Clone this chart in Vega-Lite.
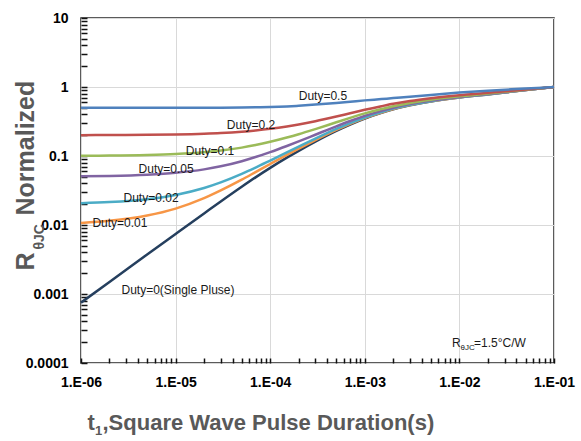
{
  "$schema": "https://vega.github.io/schema/vega-lite/v6.json",
  "width": 473,
  "height": 345,
  "autosize": {"type": "none"},
  "padding": {"left": 81, "top": 18, "right": 27, "bottom": 78},
  "background": "white",
  "config": {
    "font": "Liberation Sans",
    "view": {"stroke": "#262626", "strokeWidth": 1.5},
    "axis": {
      "labelFont": "Liberation Sans",
      "labelFontSize": 14,
      "labelFontWeight": "bold",
      "labelColor": "#000000",
      "titleFont": "Liberation Sans",
      "titleColor": "#595959",
      "titleFontWeight": "bold",
      "gridColor": "#d9d9d9",
      "gridWidth": 1,
      "domain": false
    }
  },
  "datasets": {
    "curves": [
      {"duty": "0", "t": 1e-6, "z": 0.00075},
      {"duty": "0", "t": 2e-6, "z": 0.00149},
      {"duty": "0", "t": 5e-6, "z": 0.00374},
      {"duty": "0", "t": 1e-5, "z": 0.00742},
      {"duty": "0", "t": 2e-5, "z": 0.0147},
      {"duty": "0", "t": 3e-5, "z": 0.0219},
      {"duty": "0", "t": 5e-5, "z": 0.0358},
      {"duty": "0", "t": 7e-5, "z": 0.049},
      {"duty": "0", "t": 1e-4, "z": 0.0673},
      {"duty": "0", "t": 1.5e-4, "z": 0.0945},
      {"duty": "0", "t": 2e-4, "z": 0.1187},
      {"duty": "0", "t": 3e-4, "z": 0.1615},
      {"duty": "0", "t": 5e-4, "z": 0.231},
      {"duty": "0", "t": 7e-4, "z": 0.2855},
      {"duty": "0", "t": 1e-3, "z": 0.349},
      {"duty": "0", "t": 1.5e-3, "z": 0.422},
      {"duty": "0", "t": 2e-3, "z": 0.475},
      {"duty": "0", "t": 3e-3, "z": 0.542},
      {"duty": "0", "t": 5e-3, "z": 0.616},
      {"duty": "0", "t": 1e-2, "z": 0.703},
      {"duty": "0", "t": 2e-2, "z": 0.78},
      {"duty": "0", "t": 5e-2, "z": 0.902},
      {"duty": "0", "t": 1e-1, "z": 1.0},

      {"duty": "0.01", "t": 1e-6, "z": 0.0107},
      {"duty": "0.01", "t": 2e-6, "z": 0.0115},
      {"duty": "0.01", "t": 5e-6, "z": 0.0137},
      {"duty": "0.01", "t": 1e-5, "z": 0.0173},
      {"duty": "0.01", "t": 2e-5, "z": 0.0245},
      {"duty": "0.01", "t": 3e-5, "z": 0.0317},
      {"duty": "0.01", "t": 5e-5, "z": 0.0454},
      {"duty": "0.01", "t": 7e-5, "z": 0.0585},
      {"duty": "0.01", "t": 1e-4, "z": 0.0766},
      {"duty": "0.01", "t": 1.5e-4, "z": 0.1036},
      {"duty": "0.01", "t": 2e-4, "z": 0.1275},
      {"duty": "0.01", "t": 3e-4, "z": 0.1699},
      {"duty": "0.01", "t": 5e-4, "z": 0.2387},
      {"duty": "0.01", "t": 7e-4, "z": 0.2927},
      {"duty": "0.01", "t": 1e-3, "z": 0.3555},
      {"duty": "0.01", "t": 1.5e-3, "z": 0.4278},
      {"duty": "0.01", "t": 2e-3, "z": 0.4803},
      {"duty": "0.01", "t": 3e-3, "z": 0.5466},
      {"duty": "0.01", "t": 5e-3, "z": 0.6198},
      {"duty": "0.01", "t": 1e-2, "z": 0.706},
      {"duty": "0.01", "t": 2e-2, "z": 0.7822},
      {"duty": "0.01", "t": 5e-2, "z": 0.903},
      {"duty": "0.01", "t": 1e-1, "z": 1.0},

      {"duty": "0.02", "t": 1e-6, "z": 0.0207},
      {"duty": "0.02", "t": 2e-6, "z": 0.0215},
      {"duty": "0.02", "t": 5e-6, "z": 0.0237},
      {"duty": "0.02", "t": 1e-5, "z": 0.0273},
      {"duty": "0.02", "t": 2e-5, "z": 0.0344},
      {"duty": "0.02", "t": 3e-5, "z": 0.0415},
      {"duty": "0.02", "t": 5e-5, "z": 0.0551},
      {"duty": "0.02", "t": 7e-5, "z": 0.068},
      {"duty": "0.02", "t": 1e-4, "z": 0.086},
      {"duty": "0.02", "t": 1.5e-4, "z": 0.1126},
      {"duty": "0.02", "t": 2e-4, "z": 0.1363},
      {"duty": "0.02", "t": 3e-4, "z": 0.1783},
      {"duty": "0.02", "t": 5e-4, "z": 0.2464},
      {"duty": "0.02", "t": 7e-4, "z": 0.2998},
      {"duty": "0.02", "t": 1e-3, "z": 0.362},
      {"duty": "0.02", "t": 1.5e-3, "z": 0.4336},
      {"duty": "0.02", "t": 2e-3, "z": 0.4855},
      {"duty": "0.02", "t": 3e-3, "z": 0.5512},
      {"duty": "0.02", "t": 5e-3, "z": 0.6237},
      {"duty": "0.02", "t": 1e-2, "z": 0.7089},
      {"duty": "0.02", "t": 2e-2, "z": 0.7844},
      {"duty": "0.02", "t": 5e-2, "z": 0.904},
      {"duty": "0.02", "t": 1e-1, "z": 1.0},

      {"duty": "0.05", "t": 1e-6, "z": 0.0507},
      {"duty": "0.05", "t": 2e-6, "z": 0.0514},
      {"duty": "0.05", "t": 5e-6, "z": 0.0536},
      {"duty": "0.05", "t": 1e-5, "z": 0.0571},
      {"duty": "0.05", "t": 2e-5, "z": 0.064},
      {"duty": "0.05", "t": 3e-5, "z": 0.0708},
      {"duty": "0.05", "t": 5e-5, "z": 0.084},
      {"duty": "0.05", "t": 7e-5, "z": 0.0966},
      {"duty": "0.05", "t": 1e-4, "z": 0.1139},
      {"duty": "0.05", "t": 1.5e-4, "z": 0.1398},
      {"duty": "0.05", "t": 2e-4, "z": 0.1628},
      {"duty": "0.05", "t": 3e-4, "z": 0.2034},
      {"duty": "0.05", "t": 5e-4, "z": 0.2695},
      {"duty": "0.05", "t": 7e-4, "z": 0.3212},
      {"duty": "0.05", "t": 1e-3, "z": 0.3816},
      {"duty": "0.05", "t": 1.5e-3, "z": 0.4509},
      {"duty": "0.05", "t": 2e-3, "z": 0.5013},
      {"duty": "0.05", "t": 3e-3, "z": 0.5649},
      {"duty": "0.05", "t": 5e-3, "z": 0.6352},
      {"duty": "0.05", "t": 1e-2, "z": 0.7179},
      {"duty": "0.05", "t": 2e-2, "z": 0.791},
      {"duty": "0.05", "t": 5e-2, "z": 0.9069},
      {"duty": "0.05", "t": 1e-1, "z": 1.0},

      {"duty": "0.1", "t": 1e-6, "z": 0.1007},
      {"duty": "0.1", "t": 2e-6, "z": 0.1013},
      {"duty": "0.1", "t": 5e-6, "z": 0.1034},
      {"duty": "0.1", "t": 1e-5, "z": 0.1067},
      {"duty": "0.1", "t": 2e-5, "z": 0.1132},
      {"duty": "0.1", "t": 3e-5, "z": 0.1197},
      {"duty": "0.1", "t": 5e-5, "z": 0.1322},
      {"duty": "0.1", "t": 7e-5, "z": 0.1441},
      {"duty": "0.1", "t": 1e-4, "z": 0.1606},
      {"duty": "0.1", "t": 1.5e-4, "z": 0.1851},
      {"duty": "0.1", "t": 2e-4, "z": 0.2068},
      {"duty": "0.1", "t": 3e-4, "z": 0.2454},
      {"duty": "0.1", "t": 5e-4, "z": 0.3079},
      {"duty": "0.1", "t": 7e-4, "z": 0.357},
      {"duty": "0.1", "t": 1e-3, "z": 0.4141},
      {"duty": "0.1", "t": 1.5e-3, "z": 0.4798},
      {"duty": "0.1", "t": 2e-3, "z": 0.5275},
      {"duty": "0.1", "t": 3e-3, "z": 0.5878},
      {"duty": "0.1", "t": 5e-3, "z": 0.6544},
      {"duty": "0.1", "t": 1e-2, "z": 0.7327},
      {"duty": "0.1", "t": 2e-2, "z": 0.802},
      {"duty": "0.1", "t": 5e-2, "z": 0.9118},
      {"duty": "0.1", "t": 1e-1, "z": 1.0},

      {"duty": "0.2", "t": 1e-6, "z": 0.2005},
      {"duty": "0.2", "t": 2e-6, "z": 0.201},
      {"duty": "0.2", "t": 5e-6, "z": 0.2025},
      {"duty": "0.2", "t": 1e-5, "z": 0.205},
      {"duty": "0.2", "t": 2e-5, "z": 0.2102},
      {"duty": "0.2", "t": 3e-5, "z": 0.2152},
      {"duty": "0.2", "t": 5e-5, "z": 0.2252},
      {"duty": "0.2", "t": 7e-5, "z": 0.2348},
      {"duty": "0.2", "t": 1e-4, "z": 0.2482},
      {"duty": "0.2", "t": 1.5e-4, "z": 0.2685},
      {"duty": "0.2", "t": 2e-4, "z": 0.2868},
      {"duty": "0.2", "t": 3e-4, "z": 0.3195},
      {"duty": "0.2", "t": 5e-4, "z": 0.3735},
      {"duty": "0.2", "t": 7e-4, "z": 0.4165},
      {"duty": "0.2", "t": 1e-3, "z": 0.4672},
      {"duty": "0.2", "t": 1.5e-3, "z": 0.5265},
      {"duty": "0.2", "t": 2e-3, "z": 0.5702},
      {"duty": "0.2", "t": 3e-3, "z": 0.6258},
      {"duty": "0.2", "t": 5e-3, "z": 0.6875},
      {"duty": "0.2", "t": 1e-2, "z": 0.7598},
      {"duty": "0.2", "t": 2e-2, "z": 0.8225},
      {"duty": "0.2", "t": 5e-2, "z": 0.9212},
      {"duty": "0.2", "t": 1e-1, "z": 1.0},

      {"duty": "0.5", "t": 1e-6, "z": 0.5},
      {"duty": "0.5", "t": 2e-6, "z": 0.5},
      {"duty": "0.5", "t": 5e-6, "z": 0.5},
      {"duty": "0.5", "t": 1e-5, "z": 0.5},
      {"duty": "0.5", "t": 2e-5, "z": 0.501},
      {"duty": "0.5", "t": 3e-5, "z": 0.502},
      {"duty": "0.5", "t": 5e-5, "z": 0.504},
      {"duty": "0.5", "t": 7e-5, "z": 0.507},
      {"duty": "0.5", "t": 1e-4, "z": 0.512},
      {"duty": "0.5", "t": 1.5e-4, "z": 0.523},
      {"duty": "0.5", "t": 2e-4, "z": 0.535},
      {"duty": "0.5", "t": 3e-4, "z": 0.556},
      {"duty": "0.5", "t": 5e-4, "z": 0.588},
      {"duty": "0.5", "t": 7e-4, "z": 0.612},
      {"duty": "0.5", "t": 1e-3, "z": 0.64},
      {"duty": "0.5", "t": 1.5e-3, "z": 0.668},
      {"duty": "0.5", "t": 2e-3, "z": 0.69},
      {"duty": "0.5", "t": 3e-3, "z": 0.722},
      {"duty": "0.5", "t": 5e-3, "z": 0.765},
      {"duty": "0.5", "t": 1e-2, "z": 0.83},
      {"duty": "0.5", "t": 2e-2, "z": 0.885},
      {"duty": "0.5", "t": 5e-2, "z": 0.948},
      {"duty": "0.5", "t": 1e-1, "z": 1.0}
    ],
    "labels": [
      {"t": 3.61e-4, "z": 0.741, "label": "Duty=0.5"},
      {"t": 6.27e-5, "z": 0.281, "label": "Duty=0.2"},
      {"t": 2.31e-5, "z": 0.12, "label": "Duty=0.1"},
      {"t": 7.93e-6, "z": 0.0648, "label": "Duty=0.05"},
      {"t": 5.5e-6, "z": 0.0246, "label": "Duty=0.02"},
      {"t": 2.58e-6, "z": 0.0107, "label": "Duty=0.01"},
      {"t": 1.06e-5, "z": 0.00114, "label": "Duty=0(Single Pluse)"}
    ],
    "note": [
      {"t": 0.00835, "z": 0.000171, "main": "R", "sub": "θJC", "rest": "=1.5°C/W"}
    ]
  },
  "resolve": {
    "scale": {"x": "independent", "y": "independent"},
    "axis": {"x": "independent", "y": "independent"}
  },
  "layer": [
    {
      "data": {"name": "curves"},
      "mark": {"type": "line", "strokeWidth": 2.5, "interpolate": "monotone"},
      "encoding": {
        "x": {
          "field": "t",
          "type": "quantitative",
          "scale": {"type": "log", "domain": [1e-6, 0.1], "nice": false},
          "axis": {
            "orient": "bottom",
            "values": [1e-6, 1e-5, 1e-4, 1e-3, 1e-2, 0.1],
            "labelExpr": "'1.E-0' + (-round(log(datum.value)/LN10))",
            "labelFlush": false,
            "labelOverlap": false,
            "labelPadding": 17,
            "ticks": true,
            "tickSize": -5,
            "tickColor": "#111111",
            "tickWidth": 1.5,
            "grid": false,
            "title": "t",
            "titleFontSize": 22,
            "titleX": 6,
            "titleY": 66,
            "titleAlign": "left",
            "titleBaseline": "alphabetic"
          }
        },
        "y": {
          "field": "z",
          "type": "quantitative",
          "scale": {"type": "log", "domain": [0.0001, 10], "nice": false},
          "axis": {
            "orient": "left",
            "values": [0.0001, 0.001, 0.01, 0.1, 1, 10],
            "labelExpr": "format(datum.value, '~g')",
            "labelFlush": false,
            "labelOverlap": false,
            "labelPadding": 19,
            "ticks": true,
            "tickSize": -6,
            "tickColor": "#111111",
            "tickWidth": 1.5,
            "grid": false,
            "title": "Normalized",
            "titleFontSize": 25,
            "titleAngle": 270,
            "titleX": -48,
            "titleY": 197,
            "titleAlign": "left",
            "titleBaseline": "alphabetic"
          }
        },
        "color": {
          "field": "duty",
          "type": "nominal",
          "scale": {
            "domain": ["0", "0.01", "0.02", "0.05", "0.1", "0.2", "0.5"],
            "range": ["#253F5E", "#F79646", "#4BACC6", "#8064A2", "#9BBB59", "#C0504D", "#4F81BD"]
          },
          "legend": null
        }
      }
    },
    {
      "data": {"name": "labels"},
      "mark": {"type": "text", "fontSize": 12, "color": "#1a1a1a", "align": "center", "baseline": "middle"},
      "encoding": {
        "x": {
          "field": "t",
          "type": "quantitative",
          "scale": {"type": "log", "domain": [1e-6, 0.1], "nice": false},
          "axis": {
            "orient": "bottom", "labels": false, "ticks": false, "domain": false,
            "values": [1e-6, 1e-5, 1e-4, 1e-3, 1e-2, 0.1],
            "grid": true,
            "title": "1", "titleFontSize": 13, "titleX": 13.5, "titleY": 71,
            "titleAlign": "left", "titleBaseline": "alphabetic"
          }
        },
        "y": {
          "field": "z",
          "type": "quantitative",
          "scale": {"type": "log", "domain": [0.0001, 10], "nice": false},
          "axis": {
            "orient": "left", "labels": false, "ticks": false, "domain": false,
            "values": [0.0001, 0.001, 0.01, 0.1, 1, 10],
            "grid": true,
            "title": "R", "titleFontSize": 25, "titleAngle": 270, "titleX": -48, "titleY": 252,
            "titleAlign": "left", "titleBaseline": "alphabetic"
          }
        },
        "text": {"field": "label"}
      }
    },
    {
      "data": {"name": "note"},
      "mark": {"type": "text", "fontSize": 12, "color": "#1a1a1a", "align": "left", "baseline": "alphabetic"},
      "encoding": {
        "x": {
          "field": "t",
          "type": "quantitative",
          "scale": {"type": "log", "domain": [1e-6, 0.1], "nice": false},
          "axis": {
            "orient": "bottom", "labels": false, "grid": false, "domain": false,
            "values": [2e-6, 3e-6, 4e-6, 5e-6, 6e-6, 7e-6, 8e-6, 9e-6,
                       2e-5, 3e-5, 4e-5, 5e-5, 6e-5, 7e-5, 8e-5, 9e-5,
                       2e-4, 3e-4, 4e-4, 5e-4, 6e-4, 7e-4, 8e-4, 9e-4,
                       2e-3, 3e-3, 4e-3, 5e-3, 6e-3, 7e-3, 8e-3, 9e-3,
                       2e-2, 3e-2, 4e-2, 5e-2, 6e-2, 7e-2, 8e-2, 9e-2],
            "ticks": true, "tickSize": -5, "tickColor": "#111111", "tickWidth": 1.5,
            "title": ",Square Wave Pulse Duration(s)", "titleFontSize": 22, "titleX": 21, "titleY": 66,
            "titleAlign": "left", "titleBaseline": "alphabetic"
          }
        },
        "y": {
          "field": "z",
          "type": "quantitative",
          "scale": {"type": "log", "domain": [0.0001, 10], "nice": false},
          "axis": {
            "orient": "left", "labels": false, "grid": false, "domain": false,
            "values": [2e-4, 3e-4, 4e-4, 5e-4, 6e-4, 7e-4, 8e-4, 9e-4,
                       2e-3, 3e-3, 4e-3, 5e-3, 6e-3, 7e-3, 8e-3, 9e-3,
                       0.02, 0.03, 0.04, 0.05, 0.06, 0.07, 0.08, 0.09,
                       0.2, 0.3, 0.4, 0.5, 0.6, 0.7, 0.8, 0.9,
                       2, 3, 4, 5, 6, 7, 8, 9],
            "ticks": true, "tickSize": -6, "tickColor": "#111111", "tickWidth": 1.5,
            "title": "θJC", "titleFontSize": 14, "titleAngle": 270, "titleX": -38, "titleY": 231,
            "titleAlign": "left", "titleBaseline": "alphabetic"
          }
        },
        "text": {"field": "main"}
      }
    },
    {
      "data": {"name": "note"},
      "mark": {"type": "text", "fontSize": 8, "color": "#1a1a1a", "align": "left", "baseline": "alphabetic", "dx": 8.5, "dy": 3},
      "encoding": {
        "x": {"field": "t", "type": "quantitative", "scale": {"type": "log", "domain": [1e-6, 0.1], "nice": false}, "axis": null},
        "y": {"field": "z", "type": "quantitative", "scale": {"type": "log", "domain": [0.0001, 10], "nice": false}, "axis": null},
        "text": {"field": "sub"}
      }
    },
    {
      "data": {"name": "note"},
      "mark": {"type": "text", "fontSize": 12, "color": "#1a1a1a", "align": "left", "baseline": "alphabetic", "dx": 22},
      "encoding": {
        "x": {"field": "t", "type": "quantitative", "scale": {"type": "log", "domain": [1e-6, 0.1], "nice": false}, "axis": null},
        "y": {"field": "z", "type": "quantitative", "scale": {"type": "log", "domain": [0.0001, 10], "nice": false}, "axis": null},
        "text": {"field": "rest"}
      }
    }
  ]
}
